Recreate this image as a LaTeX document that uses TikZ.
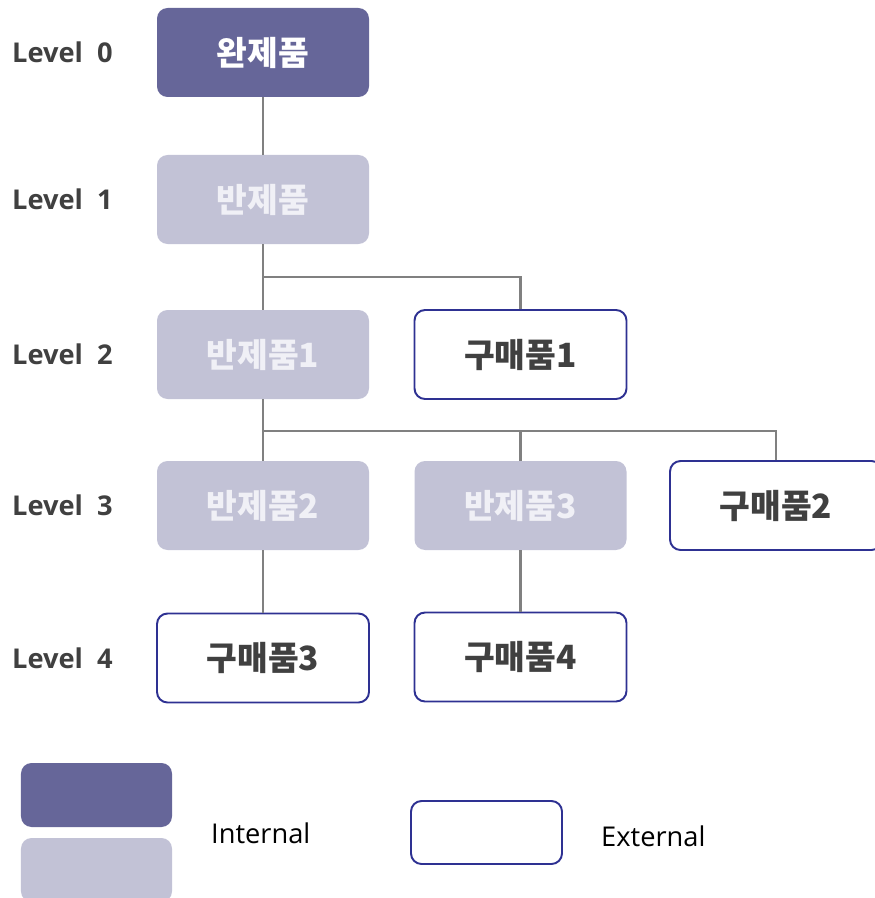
\documentclass[tikz,border=0pt]{standalone}
\usepackage{fontspec}
\usepackage{tikz}
\usetikzlibrary{positioning}
\setmainfont{Open Sans}
\newfontfamily\krfont{Noto Sans CJK KR}
\definecolor{innerdark}{RGB}{102,102,153}
\definecolor{innerlight}{RGB}{194,194,214}
\definecolor{outerline}{RGB}{46,49,146}
\definecolor{linkgray}{RGB}{128,128,128}
\definecolor{labelgray}{RGB}{64,64,64}
\definecolor{paletext}{RGB}{240,240,246}

\begin{document}
\begin{tikzpicture}[
    part/.style={minimum width=4.24cm, minimum height=1.78cm, rounded corners=6pt, font=\krfont\bfseries\fontsize{19}{22}\selectfont},
    topitem/.style={part, fill=innerdark, text=white},
    semi/.style={part, fill=innerlight, text=paletext},
    bought/.style={part, draw=outerline, line width=1.1pt, fill=white, text=labelgray},
    level/.style={anchor=west, font=\bfseries\fontsize{15.5}{18}\selectfont, text=labelgray},
    link/.style={draw=linkgray, line width=1.4pt}
]
    \useasboundingbox (0,0) rectangle (17.5,-17.96);

    % Level labels
    \node[level] (lv0) at (0.12,-1.05) {Level\ \ 0};
    \node[level] (lv1) at (0.12,-3.99) {Level\ \ 1};
    \node[level] (lv2) at (0.12,-7.09) {Level\ \ 2};
    \node[level] (lv3) at (0.12,-10.11) {Level\ \ 3};
    \node[level] (lv4) at (0.12,-13.16) {Level\ \ 4};

    % Parts tree
    \node[topitem] (final) at (5.26,-1.05) {완제품};
    \node[semi] (semi) at (5.26,-3.99) {반제품};
    \node[semi] (semia) at (5.26,-7.09) {반제품1};
    \node[bought] (buya) at (10.41,-7.09) {구매품1};
    \node[semi] (semib) at (5.26,-10.11) {반제품2};
    \node[semi] (semic) at (10.41,-10.11) {반제품3};
    \node[bought] (buyb) at (15.52,-10.11) {구매품2};
    \node[bought] (buyc) at (5.26,-13.16) {구매품3};
    \node[bought] (buyd) at (10.41,-13.14) {구매품4};

    % Connectors
    \coordinate (fork1) at (5.26,-5.54);
    \coordinate (fork2) at (5.26,-8.62);
    \draw[link] (final) -- (semi);
    \draw[link] (semi) -- (semia);
    \draw[link] (fork1) -| (buya);
    \draw[link] (semia.south) -- (semib);
    \draw[link] (fork2) -| (semic);
    \draw[link] (fork2) -| (buyb);
    \draw[link] (semib) -- (buyc);
    \draw[link] (semic) -- (buyd);

    % Legend
    \node[topitem, minimum width=3.02cm, minimum height=1.28cm] (keydark) at (1.93,-15.9) {};
    \node[semi, minimum width=3.02cm, minimum height=1.28cm] (keylight) at (1.93,-17.4) {};
    \node[anchor=west, font=\fontsize{15.5}{18}\selectfont] (keyin) at (4.1,-16.66) {Internal};
    \node[bought, minimum width=3.02cm, minimum height=1.26cm] (keyout) at (9.73,-16.65) {};
    \node[anchor=west, font=\fontsize{15.5}{18}\selectfont] (keyex) at (11.9,-16.72) {External};
\end{tikzpicture}
\end{document}
